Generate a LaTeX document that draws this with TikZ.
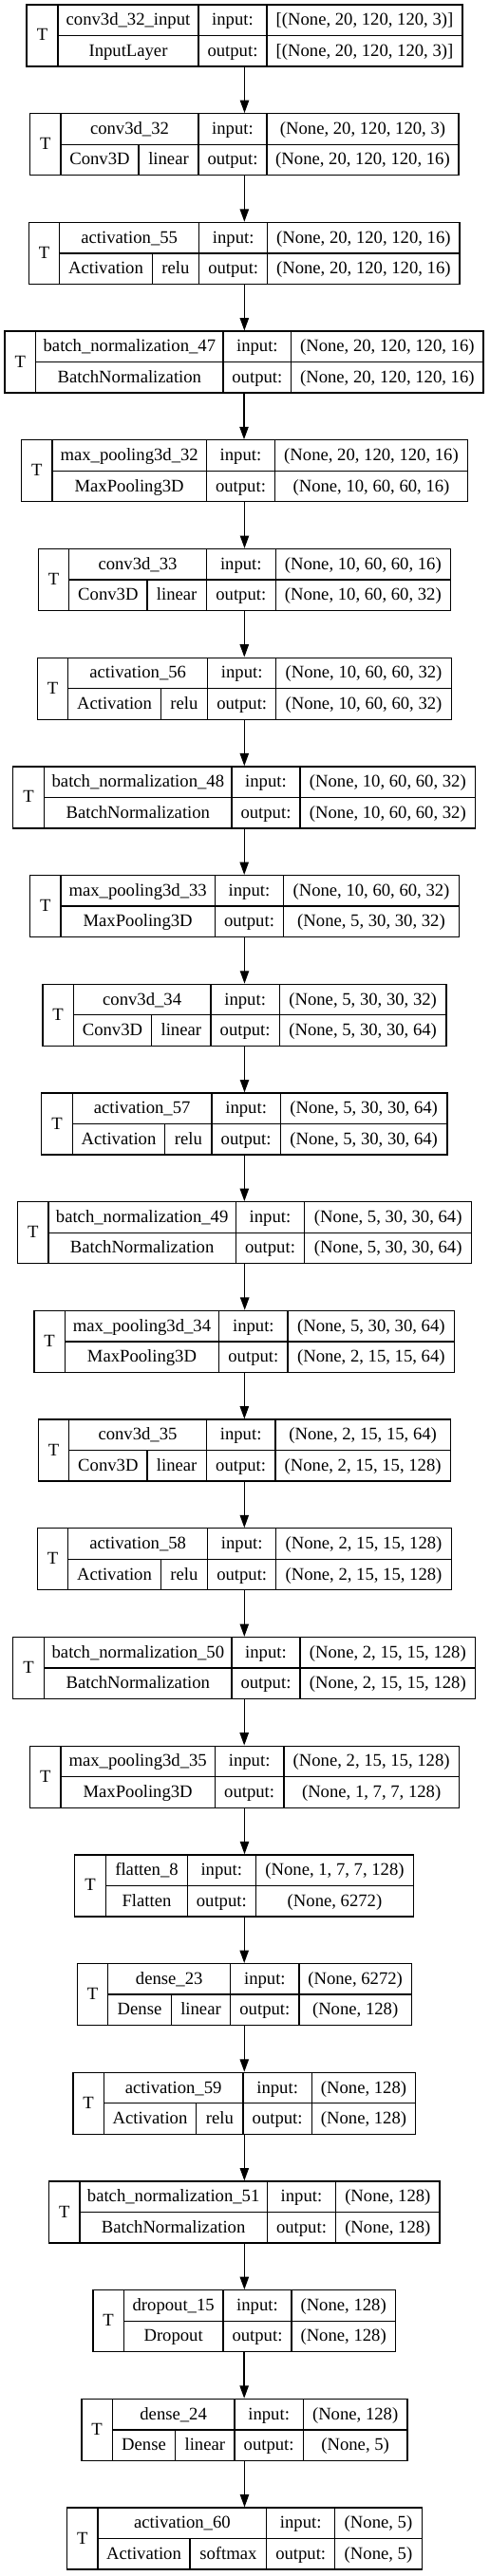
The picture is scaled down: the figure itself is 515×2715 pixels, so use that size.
\documentclass[tikz,border=0pt]{standalone}
\usepackage{fontspec}
\setmainfont{Liberation Serif}
\usetikzlibrary{arrows.meta}
\tikzset{
  boxline/.style={draw=black, line width=1pt},
  layerbox/.style={boxline, rectangle, inner sep=0pt},
  celltext/.style={anchor=base, inner sep=0pt, font=\fontsize{14}{16.8}\selectfont},
  flow/.style={line width=1pt, -{Triangle[length=10pt,width=7pt]}},
}
\def\parsegeo#1,#2,#3,#4,#5,#6\relax{\def\gL{#1}\def\gT{#2}\def\gA{#3}\def\gB{#4}\def\gC{#5}\def\gR{#6}}
% #1 index, #2 geometry L,T,A,B,C,R (px), #3 name, #4 type, #5 activation, #6 input shape, #7 output shape
\newcommand\nnlayer[7]{%
  \parsegeo#2\relax
  \pgfmathsetmacro\Top{5+(#1-1)*114.7}%
  \pgfmathsetmacro\Bot{\Top+65}%
  \pgfmathsetmacro\Mid{\Top+32.5}%
  \pgfmathsetmacro\Wd{(\gR-\gL)*0.75}%
  \pgfmathsetmacro\Ht{65*0.75}%
  \pgfmathsetmacro\Cx{(\gL+\gR)/2}%
  \pgfmathsetmacro\ya{\Top+16.25+5.5}%
  \pgfmathsetmacro\yb{\Top+48.75+5.5}%
  \pgfmathsetmacro\ym{\Mid+5.5}%
  \node[layerbox, minimum width=\Wd pt, minimum height=\Ht pt] (b#1) at (\Cx,\Mid) {};
  \draw[boxline] (\gT,\Top) -- (\gT,\Bot) (\gB,\Top) -- (\gB,\Bot)
                 (\gC,\Top) -- (\gC,\Bot) (\gT,\Mid) -- (\gR,\Mid);
  \node[celltext] (b#1T) at ({(\gL+\gT)/2},\ym) {T};
  \node[celltext] (b#1n) at ({(\gT+\gB)/2},\ya) {#3};
  \node[celltext] (b#1i) at ({(\gB+\gC)/2},\ya) {input:};
  \node[celltext] (b#1o) at ({(\gB+\gC)/2},\yb) {output:};
  \node[celltext] (b#1s) at ({(\gC+\gR)/2},\ya) {#6};
  \node[celltext] (b#1u) at ({(\gC+\gR)/2},\yb) {#7};
  \if\relax\detokenize{#5}\relax
    \node[celltext] (b#1k) at ({(\gT+\gB)/2},\yb) {#4};
  \else
    \draw[boxline] (\gA,\Mid) -- (\gA,\Bot);
    \node[celltext] (b#1k) at ({(\gT+\gA)/2},\yb) {#4};
    \node[celltext] (b#1a) at ({(\gA+\gB)/2},\yb) {#5};
  \fi
}
\begin{document}
\begin{tikzpicture}[x=0.75pt, y=-0.75pt]
\useasboundingbox (0,0) rectangle (515,2715);
\fill[white] (0,0) rectangle (515,2715);
\nnlayer{1}{28,61,0,209,281,487}{conv3d\_32\_input}{InputLayer}{}{[(None, 20, 120, 120, 3)]}{[(None, 20, 120, 120, 3)]}
\nnlayer{2}{31.7,64,146,209,281,483}{conv3d\_32}{Conv3D}{linear}{(None, 20, 120, 120, 3)}{(None, 20, 120, 120, 16)}
\nnlayer{3}{30.7,62.7,160.3,209.7,281.7,484}{activation\_55}{Activation}{relu}{(None, 20, 120, 120, 16)}{(None, 20, 120, 120, 16)}
\nnlayer{4}{5,37.7,0,235,306.7,509}{batch\_normalization\_47}{BatchNormalization}{}{(None, 20, 120, 120, 16)}{(None, 20, 120, 120, 16)}
\nnlayer{5}{22.7,55,0,217.3,289.7,492.3}{max\_pooling3d\_32}{MaxPooling3D}{}{(None, 20, 120, 120, 16)}{(None, 10, 60, 60, 16)}
\nnlayer{6}{40.3,72.7,155,217.3,290.3,474.3}{conv3d\_33}{Conv3D}{linear}{(None, 10, 60, 60, 16)}{(None, 10, 60, 60, 32)}
\nnlayer{7}{39.3,71.7,169.3,218.7,290.7,475.3}{activation\_56}{Activation}{relu}{(None, 10, 60, 60, 32)}{(None, 10, 60, 60, 32)}
\nnlayer{8}{13.7,46.7,0,244,316,500.7}{batch\_normalization\_48}{BatchNormalization}{}{(None, 10, 60, 60, 32)}{(None, 10, 60, 60, 32)}
\nnlayer{9}{31.7,64,0,226.3,298.7,483.3}{max\_pooling3d\_33}{MaxPooling3D}{}{(None, 10, 60, 60, 32)}{(None, 5, 30, 30, 32)}
\nnlayer{10}{45,77.3,159.7,222,294.3,470}{conv3d\_34}{Conv3D}{linear}{(None, 5, 30, 30, 32)}{(None, 5, 30, 30, 64)}
\nnlayer{11}{43.7,76.3,173.7,223,295.3,471}{activation\_57}{Activation}{relu}{(None, 5, 30, 30, 64)}{(None, 5, 30, 30, 64)}
\nnlayer{12}{18.7,51,0,248.3,320.7,496.7}{batch\_normalization\_49}{BatchNormalization}{}{(None, 5, 30, 30, 64)}{(None, 5, 30, 30, 64)}
\nnlayer{13}{36,68.3,0,230.7,303,478.7}{max\_pooling3d\_34}{MaxPooling3D}{}{(None, 5, 30, 30, 64)}{(None, 2, 15, 15, 64)}
\nnlayer{14}{40.3,72.7,155,217.3,290,474.3}{conv3d\_35}{Conv3D}{linear}{(None, 2, 15, 15, 64)}{(None, 2, 15, 15, 128)}
\nnlayer{15}{39.3,71.7,169.3,218.7,290.7,475.3}{activation\_58}{Activation}{relu}{(None, 2, 15, 15, 128)}{(None, 2, 15, 15, 128)}
\nnlayer{16}{13.7,46.7,0,244,316,500.7}{batch\_normalization\_50}{BatchNormalization}{}{(None, 2, 15, 15, 128)}{(None, 2, 15, 15, 128)}
\nnlayer{17}{31.7,64,0,226.3,299,483.3}{max\_pooling3d\_35}{MaxPooling3D}{}{(None, 2, 15, 15, 128)}{(None, 1, 7, 7, 128)}
\nnlayer{18}{78.7,111.7,0,197.3,269.3,435.7}{flatten\_8}{Flatten}{}{(None, 1, 7, 7, 128)}{(None, 6272)}
\nnlayer{19}{81.3,113.7,180.3,242.7,315,433.3}{dense\_23}{Dense}{linear}{(None, 6272)}{(None, 128)}
\nnlayer{20}{77,109.3,206.7,256,328.3,437.7}{activation\_59}{Activation}{relu}{(None, 128)}{(None, 128)}
\nnlayer{21}{51.7,84,0,281.3,353.7,463}{batch\_normalization\_51}{BatchNormalization}{}{(None, 128)}{(None, 128)}
\nnlayer{22}{98,130.3,0,235,307,416.3}{dropout\_15}{Dropout}{}{(None, 128)}{(None, 128)}
\nnlayer{23}{86,118.3,184.7,247,319.3,429}{dense\_24}{Dense}{linear}{(None, 128)}{(None, 5)}
\nnlayer{24}{70.7,103,200,280.7,352.7,444.3}{activation\_60}{Activation}{softmax}{(None, 5)}{(None, 5)}
\foreach \i [evaluate=\i as \j using int(\i+1)] in {1,...,23}
  \draw[flow] (b\i.south) -- (b\i.south |- b\j.north);
\end{tikzpicture}
\end{document}
